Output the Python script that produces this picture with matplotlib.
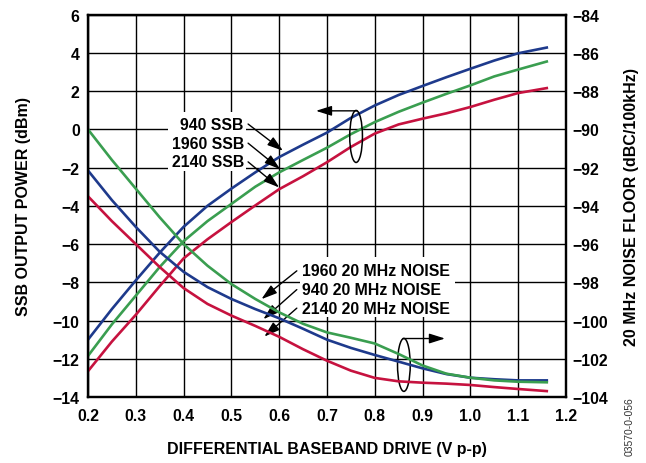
import matplotlib
matplotlib.use("Agg")
from matplotlib import pyplot as plt
from matplotlib.patches import Ellipse, Rectangle

plt.rcParams['font.family'] = ['Liberation Sans', 'DejaVu Sans']
plt.rcParams['font.weight'] = 'bold'

# drive level (V p-p)
x = [0.2, 0.25, 0.3, 0.35, 0.4, 0.45, 0.5, 0.55, 0.6, 0.65, 0.7, 0.75, 0.8, 0.85, 0.9, 0.95, 1.0, 1.05, 1.1, 1.16]

# SSB output power (dBm), left axis
ssb_940 = [-11.0, -9.4, -7.9, -6.45, -5.1, -4.0, -3.1, -2.25, -1.45, -0.8, -0.17, 0.6, 1.25, 1.8, 2.27, 2.73, 3.17, 3.6, 3.98, 4.28]
ssb_1960 = [-11.85, -10.2, -8.7, -7.2, -5.85, -4.8, -3.9, -3.0, -2.25, -1.6, -0.96, -0.25, 0.38, 0.92, 1.4, 1.86, 2.3, 2.77, 3.13, 3.55]
ssb_2140 = [-12.65, -11.1, -9.7, -8.2, -6.75, -5.75, -4.85, -3.98, -3.13, -2.45, -1.72, -0.92, -0.22, 0.26, 0.56, 0.84, 1.17, 1.55, 1.9, 2.16]

# 20 MHz noise floor (dBc/100kHz), right axis
noise_940 = [-92.15, -93.7, -95.1, -96.4, -97.45, -98.25, -98.87, -99.4, -99.88, -100.43, -101.0, -101.43, -101.8,
             -102.15, -102.5, -102.8, -102.99, -103.07, -103.13, -103.13]
noise_1960 = [-90.0, -91.6, -93.1, -94.6, -96.0, -97.13, -98.09, -98.87, -99.57, -100.17, -100.62, -100.9, -101.2,
              -101.75, -102.35, -102.78, -102.99, -103.13, -103.2, -103.23]
noise_2140 = [-93.5, -94.8, -96.0, -97.2, -98.3, -99.13, -99.74, -100.28, -100.85, -101.5, -102.1, -102.62, -103.0,
              -103.18, -103.25, -103.3, -103.37, -103.48, -103.58, -103.69]

blue = "#1e3a8c"
green = "#3a9e50"
red = "#c6123f"

fig = plt.figure(figsize=(6.46, 4.64), dpi=100)
ax = fig.add_axes([0.1362, 0.1422, 0.7398, 0.8240])
ax2 = ax.twinx()

lw = 1.9
ax.plot(x, ssb_940, color=blue, lw=lw, zorder=3)
ax.plot(x, ssb_1960, color=green, lw=lw, zorder=3)
ax.plot(x, ssb_2140, color=red, lw=lw, zorder=3)
ax2.plot(x, noise_940, color=blue, lw=lw)
ax2.plot(x, noise_1960, color=green, lw=lw)
ax2.plot(x, noise_2140, color=red, lw=lw)

ax.set_xlim(0.2, 1.2)
ax.set_ylim(-14, 6)
ax2.set_ylim(-104, -84)
ax.set_xticks([0.2, 0.3, 0.4, 0.5, 0.6, 0.7, 0.8, 0.9, 1.0, 1.1, 1.2])
ax.set_xticklabels(["0.2", "0.3", "0.4", "0.5", "0.6", "0.7", "0.8", "0.9", "1.0", "1.1", "1.2"])
ax.set_yticks(range(-14, 7, 2))
ax2.set_yticks(range(-104, -83, 2))

ax.set_axisbelow(True)
ax.grid(True, color="black", lw=1.0)
for a in (ax, ax2):
    for s in a.spines.values():
        s.set_linewidth(1.6)
ax.tick_params(axis='x', length=0, pad=8, labelsize=11.3)
ax.tick_params(axis='y', length=0, pad=6, labelsize=11.3)
ax2.tick_params(axis='y', length=0, pad=5, labelsize=11.3)

# white boxes behind the curve labels
ax.add_patch(Rectangle((0.367, -2.2), 0.163, 3.12, facecolor="white", edgecolor="none", zorder=1))
ax.add_patch(Rectangle((0.643, -9.83), 0.325, 3.15, facecolor="white", edgecolor="none", zorder=1))

arrow = dict(arrowstyle="-|>,head_length=0.95,head_width=0.3", color="black", lw=1.0, shrinkA=0, shrinkB=0)

ssb_labels = ["940 SSB", "1960 SSB", "2140 SSB"]
ssb_text_y = [0.28, -0.72, -1.7]
ssb_tips = [(0.608, -1.12), (0.602, -2.08), (0.6, -3.04)]
for lab, ty, tip in zip(ssb_labels, ssb_text_y, ssb_tips):
    ax.text(0.526, ty, lab, ha="right", va="center", fontsize=11.4, zorder=4)
    ax.annotate("", xy=tip, xytext=(0.535, ty), arrowprops=arrow, zorder=4)

noise_labels = ["1960 20 MHz NOISE", "940 20 MHz NOISE", "2140 20 MHz NOISE"]
noise_text_y = [-7.4, -8.38, -9.35]
noise_tips = [(0.563, -8.88), (0.567, -9.93), (0.569, -10.84)]
for lab, ty, tip in zip(noise_labels, noise_text_y, noise_tips):
    ax.text(0.648, ty, lab, ha="left", va="center", fontsize=11.4, zorder=4)
    ax.annotate("", xy=tip, xytext=(0.637, ty), arrowprops=arrow, zorder=4)

# group markers
ax.add_patch(Ellipse((0.761, -0.37), 0.0266, 2.72, fill=False, edgecolor="black", lw=1.1, zorder=4))
ax.annotate("", xy=(0.677, 0.97), xytext=(0.763, 0.97), arrowprops=arrow, zorder=4)
ax.add_patch(Ellipse((0.861, -12.32), 0.0266, 2.77, fill=False, edgecolor="black", lw=1.1, zorder=4))
ax.annotate("", xy=(0.947, -10.94), xytext=(0.859, -10.94), arrowprops=arrow, zorder=4)

fig.text(0.036, 0.554, "SSB OUTPUT POWER (dBm)", rotation=90, ha="center", va="center", fontsize=11.5)
fig.text(0.977, 0.554, "20 MHz NOISE FLOOR (dBC/100kHz)", rotation=90, ha="center", va="center", fontsize=11.5)
fig.text(0.506, 0.032, "DIFFERENTIAL BASEBAND DRIVE (V p-p)", ha="center", va="center", fontsize=11.5)
fig.text(0.975, 0.08, "03570-0-056", rotation=90, ha="center", va="center", fontsize=7.5,
         fontweight="normal", color="#333333")

fig.savefig("out.png", dpi=100)
